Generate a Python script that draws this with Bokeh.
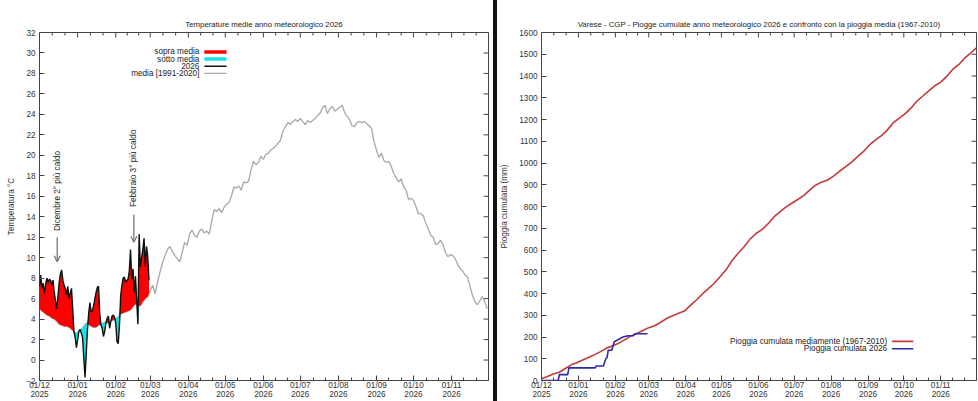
import numpy as np
import pandas as pd
from bokeh.plotting import figure
from bokeh.models import Range1d, FixedTicker, Label, Arrow, OpenHead, Div
from bokeh.layouts import row
from bokeh.embed import file_html
from bokeh.resources import INLINE
from bokeh.core.properties import value

FONT = "Liberation Sans"
FS = "8.2px"
FS_TITLE = "7.8px"

# ---------------- data ----------------
# mean temperature 1991-2020, one value every 2 days from 1 Dec
mean_step = 2
mean_1991_2020 = [
    5.0, 4.8, 4.6, 4.4, 4.3, 4.1, 4.0, 3.8, 3.5, 3.4,
    3.3, 3.3, 3.2, 3.0, 2.8, 2.6, 2.8, 3.0, 3.3, 3.6,
    3.5, 3.3, 3.2, 3.2, 3.4, 3.5, 3.6, 3.7, 3.6, 3.8,
    3.9, 4.0, 4.2, 4.5, 4.6, 4.7, 4.8, 4.9, 5.2, 5.5,
    5.3, 5.3, 5.7, 6.0, 6.2, 6.8, 7.3, 6.5, 7.6, 8.6,
    9.5, 10.2, 10.8, 11.1, 10.6, 10.2, 9.9, 9.6, 10.5, 11.5,
    11.2, 12.3, 12.7, 12.2, 12.0, 12.6, 12.8, 12.4, 12.6, 12.3,
    13.6, 14.7, 14.5, 14.8, 14.4, 14.9, 15.2, 15.4, 16.0, 16.9,
    16.8, 17.0, 16.6, 17.4, 17.3, 17.5, 18.6, 19.4, 19.1, 19.3,
    19.9, 19.6, 20.1, 20.2, 20.5, 20.7, 20.9, 21.2, 21.5, 22.4,
    22.8, 23.2, 23.0, 23.3, 23.5, 23.3, 23.6, 23.3, 23.0, 23.4,
    23.2, 23.4, 23.6, 23.9, 24.1, 24.6, 24.9, 24.1, 24.5, 24.8,
    24.3, 24.5, 24.7, 24.9, 24.2, 23.8, 23.5, 22.9, 22.8, 23.2,
    23.3, 23.2, 23.3, 23.1, 22.9, 22.6, 21.3, 20.5, 19.8, 20.2,
    19.5, 19.3, 19.4, 18.9, 18.2, 17.8, 17.4, 17.7, 16.9, 16.6,
    15.7, 15.8, 15.6, 15.0, 14.3, 14.3, 14.1, 13.4, 12.8, 12.2,
    12.0, 11.3, 11.4, 11.7, 11.3, 10.5, 10.1, 10.3, 10.2, 9.9,
    9.3, 8.9, 8.7, 8.3, 8.1, 7.2, 6.3, 5.7, 5.4, 5.8,
    6.2, 5.7, 5.0,
]

# daily mean temperature 2026 (from 1 Dec 2025)
temp_2026 = [
    7.2, 8.3, 7.0, 7.5, 6.5, 7.4, 8.0, 7.6, 7.9, 7.8,
    7.3, 7.8, 6.6, 5.8, 5.0, 6.2, 7.6, 8.4, 8.8, 7.8,
    7.3, 7.0, 6.4, 7.2, 6.0, 6.5, 7.0, 5.0, 2.8, 2.2,
    1.2, 2.0, 2.8, 3.0, 2.6, 2.2, 0.2, -1.7, 0.6, 3.0,
    4.6, 5.6, 4.7, 4.8, 5.3, 6.0, 6.6, 7.1, 7.2, 4.5,
    3.4, 3.1, 2.3, 2.8, 3.6, 4.1, 4.3, 3.1, 3.8, 4.3,
    4.4, 4.2, 3.6, 1.8, 1.6, 3.4, 6.3, 7.3, 8.0, 8.1,
    7.6, 7.8, 7.9, 8.7, 10.8, 7.9, 8.9, 6.6, 8.2, 5.9,
    3.5, 12.3, 9.1, 10.0, 10.8, 11.9, 9.1, 11.1, 10.1, 7.8,
]

# cumulative mean rain 1967-2010, one value every 5 days from 1 Dec
rain_step = 5
rain_mean = [
    8, 18, 30, 38, 55, 72, 83, 95, 107, 120,
    134, 150, 160, 172, 188, 204, 216, 230, 243, 252,
    268, 285, 298, 309, 320, 345, 370, 398, 422, 447,
    478, 510, 552, 585, 615, 650, 676, 694, 720, 752,
    775, 797, 815, 832, 850, 875, 898, 912, 922, 940,
    962, 982, 1003, 1028, 1052, 1082, 1105, 1125, 1150, 1184,
    1205, 1226, 1252, 1285, 1308, 1332, 1355, 1372, 1398, 1430,
    1452, 1482, 1505, 1530,
]

# cumulative rain 2026, daily from 1 Dec 2025
rain_2026 = [
    0, 0, 0, 0, 0, 0, 0, 0, 0, 0,
    0, 0, 0, 0, 0, 27, 27, 27, 27, 27,
    27, 27, 27, 58, 58, 58, 58, 58, 58, 58,
    58, 58, 58, 58, 58, 58, 58, 58, 58, 58,
    58, 58, 58, 58, 58, 58, 67, 67, 67, 67,
    67, 67, 67, 85, 100, 105, 139, 139, 139, 139,
    160, 177, 181, 184, 187, 190, 193, 196, 199, 201,
    202, 204, 205, 206, 206, 206, 206, 206, 213, 215,
    215, 215, 215, 215, 215, 215, 215, 215, 215, 215,
]

temp_ticks = list(range(-2, 33, 2))
rain_ticks = list(range(0, 1601, 100))

# ---------------- axes helpers ----------------
start = pd.Timestamp("2025-12-01")
months = pd.date_range("2025-12-01", "2026-12-01", freq="MS")
month_days = [int((m - start).days) for m in months]
month_labels = [m.strftime("%d/%m\n%Y") for m in months[:-1]] + [""]
minor_days = []
for a, b in zip(month_days[:-1], month_days[1:]):
    minor_days += [a + (b - a) / 3.0, a + 2.0 * (b - a) / 3.0]

H = 401
TOP, BOTTOM = 32, 19
TICK_COL = "#444444"


def style_axis(ax):
    ax.axis_line_color = None
    ax.major_tick_in = 5
    ax.major_tick_out = 0
    ax.minor_tick_in = 3
    ax.minor_tick_out = 0
    ax.major_tick_line_color = TICK_COL
    ax.minor_tick_line_color = TICK_COL
    ax.major_label_text_font = FONT
    ax.major_label_text_color = "#333333"
    ax.major_label_text_font_size = FS
    ax.axis_label_text_font = FONT
    ax.axis_label_text_font_size = FS
    ax.axis_label_text_font_style = "normal"
    ax.axis_label_text_color = "#333333"
    ax.axis_label_standoff = 7


def make_fig(title, ylab, y0, y1, yticks, width, left, right):
    p = figure(width=width, height=H, x_range=Range1d(0, 365), y_range=Range1d(y0, y1),
               output_backend="svg", toolbar_location=None,
               min_border_left=left, min_border_right=right,
               min_border_top=TOP, min_border_bottom=BOTTOM)
    p.title.text = title
    p.title.align = "center"
    p.title.text_font = FONT
    p.title.text_font_size = FS_TITLE
    p.title.text_font_style = "normal"
    p.title.text_color = "#222222"
    p.title.standoff = 8
    p.xgrid.visible = False
    p.ygrid.visible = False
    p.outline_line_color = TICK_COL
    p.outline_line_width = 1
    p.background_fill_color = "white"
    p.border_fill_color = "white"
    xt = FixedTicker(ticks=month_days, minor_ticks=minor_days)
    yt = FixedTicker(ticks=yticks)
    p.xaxis.ticker = xt
    p.xaxis.major_label_overrides = dict(zip(month_days, month_labels))
    p.yaxis.ticker = yt
    p.yaxis.axis_label = ylab
    for ax in p.xaxis:
        style_axis(ax)
        ax.major_label_text_line_height = 1.0
        ax.major_label_standoff = 0
    for ax in p.yaxis:
        style_axis(ax)
        ax.major_label_standoff = 4

    # mirrored tick marks on the top and right frame edges (gnuplot style)
    fw = width - left - right
    fh = H - TOP - BOTTOM - 4
    dy_maj = 5.0 * (y1 - y0) / fh
    dy_min = 3.0 * (y1 - y0) / fh
    dx_maj = 5.0 * 365.0 / fw
    n, k, m = len(month_days), len(minor_days), len(yticks)
    p.segment(x0=month_days, y0=[y1] * n, x1=month_days, y1=[y1 - dy_maj] * n,
              line_color=TICK_COL, line_width=1)
    p.segment(x0=minor_days, y0=[y1] * k, x1=minor_days, y1=[y1 - dy_min] * k,
              line_color=TICK_COL, line_width=1)
    p.segment(x0=[365] * m, y0=yticks, x1=[365 - dx_maj] * m, y1=yticks,
              line_color=TICK_COL, line_width=1)
    return p


# ---------------- left: temperatures ----------------
p1 = make_fig("Temperature medie anno meteorologico 2026", "Temperatura °C",
              -2, 32, temp_ticks, 493, 39, 5)

mean_days = np.arange(len(mean_1991_2020)) * mean_step
d26 = np.arange(len(temp_2026))
t26 = np.array(temp_2026, dtype=float)
m26 = np.interp(d26, mean_days, mean_1991_2020)

p1.line(mean_days, mean_1991_2020, line_color="#a8a8a8", line_width=1.3)
p1.varea(x=d26, y1=m26, y2=np.maximum(t26, m26), fill_color="#ff0000")
p1.varea(x=d26, y1=np.minimum(t26, m26), y2=m26, fill_color="#12e4e8")
p1.line(d26, t26, line_color="#111111", line_width=1.4)

# annotations (arrows + rotated notes)
arrow_col = "#777777"
for xd, y_tail, y_tip, y_txt, txt in [(14.4, 12.0, 9.6, 12.6, "Dicembre 2° più caldo"),
                                       (76.7, 14.2, 11.5, 14.95, "Febbraio 3° più caldo")]:
    p1.add_layout(Arrow(x_start=xd, y_start=y_tail, x_end=xd, y_end=y_tip,
                        line_color=arrow_col, line_width=1.3,
                        end=OpenHead(size=6, line_color=arrow_col, line_width=1.3)))
    p1.add_layout(Label(x=xd, y=y_txt, text=txt, angle=90, angle_units="deg",
                        text_align="left", text_baseline="middle",
                        text_font=FONT, text_font_size=FS, text_color="#222222"))

# legend (label on the left, sample on the right)
leg_labels = ["sopra media", "sotto media", "2026", "media [1991-2020]"]
leg_y = [30.1, 29.4, 28.7, 28.0]
p1.text(x=[130] * 4, y=leg_y, text=leg_labels, text_align="right", text_baseline="middle",
        text_font=value(FONT), text_font_size=FS, text_color="#222222")
p1.segment(x0=134, y0=leg_y[0], x1=152, y1=leg_y[0], line_color="#ff0000", line_width=3.5)
p1.segment(x0=134, y0=leg_y[1], x1=152, y1=leg_y[1], line_color="#12e4e8", line_width=3.5)
p1.segment(x0=134, y0=leg_y[2], x1=152, y1=leg_y[2], line_color="#111111", line_width=1.5)
p1.segment(x0=134, y0=leg_y[3], x1=152, y1=leg_y[3], line_color="#a8a8a8", line_width=1.2)

# ---------------- right: rain ----------------
p2 = make_fig("Varese - CGP - Piogge cumulate anno meteorologico 2026 e confronto con la pioggia media (1967-2010)",
              "Pioggia cumulata (mm)", 0, 1600, rain_ticks, 481, 41, 2)

rain_days = np.arange(len(rain_mean)) * rain_step
p2.line(rain_days, rain_mean, line_color="#c43a3a", line_width=1.6)
p2.line(np.arange(len(rain_2026)), rain_2026, line_color="#2a2aa8", line_width=1.6)

leg2_labels = ["Pioggia cumulata mediamente (1967-2010)", "Pioggia cumulata 2026"]
leg2_y = [180, 146]
p2.text(x=[290] * 2, y=leg2_y, text=leg2_labels, text_align="right", text_baseline="middle",
        text_font=value(FONT), text_font_size=FS, text_color="#222222")
p2.segment(x0=294, y0=leg2_y[0], x1=312, y1=leg2_y[0], line_color="#c43a3a", line_width=1.6)
p2.segment(x0=294, y0=leg2_y[1], x1=312, y1=leg2_y[1], line_color="#2a2aa8", line_width=1.6)

divider = Div(width=4, height=H, margin=0, styles={"background-color": "#111111"})

layout = row(p1, divider, p2)
open("out.html", "w").write(file_html(layout, INLINE))
